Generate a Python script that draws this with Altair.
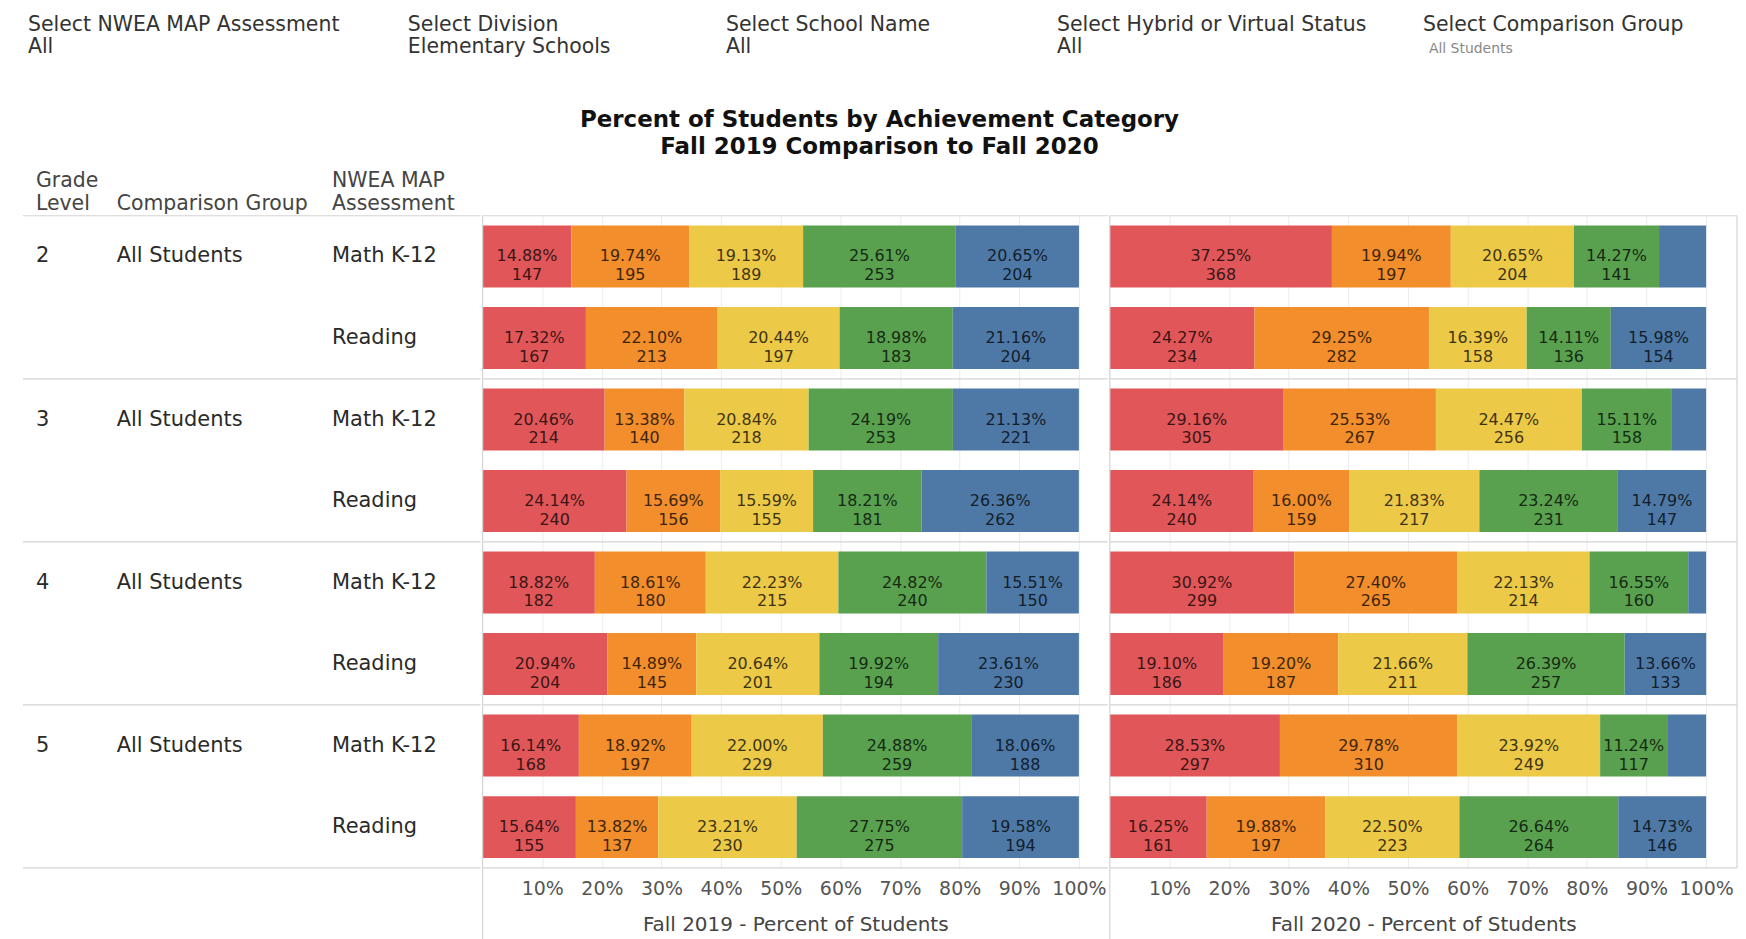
import altair as alt
import pandas as pd

FONT = "DejaVu Sans"
LINE = "#d4d4d4"

# ---------------- data ----------------
grades = ["2", "3", "4", "5"]
assessments = ["Math K-12", "Reading"]
group_label = "All Students"
categories = ["Low", "LoAvg", "Avg", "HiAvg", "High"]
cat_colors = ["#E15759", "#F28E2B", "#EDC948", "#59A14F", "#4E79A7"]

pct_2019 = [
    [14.88, 19.74, 19.13, 25.61, 20.65],
    [17.32, 22.10, 20.44, 18.98, 21.16],
    [20.46, 13.38, 20.84, 24.19, 21.13],
    [24.14, 15.69, 15.59, 18.21, 26.36],
    [18.82, 18.61, 22.23, 24.82, 15.51],
    [20.94, 14.89, 20.64, 19.92, 23.61],
    [16.14, 18.92, 22.00, 24.88, 18.06],
    [15.64, 13.82, 23.21, 27.75, 19.58],
]
n_2019 = [
    [147, 195, 189, 253, 204],
    [167, 213, 197, 183, 204],
    [214, 140, 218, 253, 221],
    [240, 156, 155, 181, 262],
    [182, 180, 215, 240, 150],
    [204, 145, 201, 194, 230],
    [168, 197, 229, 259, 188],
    [155, 137, 230, 275, 194],
]
pct_2020 = [
    [37.25, 19.94, 20.65, 14.27, 7.89],
    [24.27, 29.25, 16.39, 14.11, 15.98],
    [29.16, 25.53, 24.47, 15.11, 5.73],
    [24.14, 16.00, 21.83, 23.24, 14.79],
    [30.92, 27.40, 22.13, 16.55, 3.00],
    [19.10, 19.20, 21.66, 26.39, 13.66],
    [28.53, 29.78, 23.92, 11.24, 6.53],
    [16.25, 19.88, 22.50, 26.64, 14.73],
]
n_2020 = [
    [368, 197, 204, 141, None],
    [234, 282, 158, 136, 154],
    [305, 267, 256, 158, None],
    [240, 159, 217, 231, 147],
    [299, 265, 214, 160, None],
    [186, 187, 211, 257, 133],
    [297, 310, 249, 117, None],
    [161, 197, 223, 264, 146],
]

filter_titles = ["Select NWEA MAP Assessment", "Select Division", "Select School Name",
                 "Select Hybrid or Virtual Status", "Select Comparison Group"]
filter_values = ["All", "Elementary Schools", "All", "All", "All Students"]
title_lines = ["Percent of Students by Achievement Category", "Fall 2019 Comparison to Fall 2020"]
header_line1 = ["Grade", "", "NWEA MAP"]
header_line2 = ["Level", "Comparison Group", "Assessment"]
tick_values = [10, 20, 30, 40, 50, 60, 70, 80, 90, 100]
axis_titles = ["Fall 2019 - Percent of Students", "Fall 2020 - Percent of Students"]

# ---------------- layout ----------------
W_TABLE, W19, W20 = 474, 627, 629
H = 654
HEADER_H = 205
PX_PER_100 = 598
filter_x = [20, 401, 720, 1052, 1419]
header_x = [28, 109, 325]

row_keys = [f"{g}|{a}" for g in grades for a in assessments]

recs = []
for period, P, N in (("2019", pct_2019, n_2019), ("2020", pct_2020, n_2020)):
    for i, rk in enumerate(row_keys):
        for j, c in enumerate(categories):
            n = N[i][j]
            lab = f"{P[i][j]:.2f}%\n{n}" if n is not None else ""
            recs.append({"period": period, "row": rk, "cat": c, "ci": j,
                         "pct": P[i][j], "label": lab})
bars_df = pd.DataFrame(recs)

table_df = pd.DataFrame({
    "row": row_keys,
    "grade": [g if a == assessments[0] else "" for g in grades for a in assessments],
    "group": [group_label if a == assessments[0] else "" for g in grades for a in assessments],
    "assess": [a for g in grades for a in assessments],
})
starts_df = pd.DataFrame({"row": [f"{g}|{assessments[0]}" for g in grades]})
end_df = pd.DataFrame({"row": [row_keys[-1]]})
one = pd.DataFrame({"k": [0]})


def yenc(band_pos=None):
    kw = {}
    if band_pos is not None:
        kw["bandPosition"] = band_pos
    return alt.Y("row:N", sort=row_keys, axis=None,
                 scale=alt.Scale(domain=row_keys, paddingInner=0, paddingOuter=0), **kw)


def hrules(x0, x1):
    top = alt.Chart(starts_df).mark_rule(color=LINE, strokeWidth=1.2).encode(
        y=yenc(0), x=alt.value(x0), x2=alt.value(x1))
    bot = alt.Chart(end_df).mark_rule(color=LINE, strokeWidth=1.2).encode(
        y=yenc(1), x=alt.value(x0), x2=alt.value(x1))
    return [top, bot]


def label(text, x, y, size, color="#333", weight="normal", align="left"):
    return alt.Chart(one).mark_text(align=align, baseline="middle", font=FONT,
                                    fontSize=size, fontWeight=weight, color=color).encode(
        x=alt.value(x), y=alt.value(y), text=alt.value(text))


# ---------------- header ----------------
hl = []
for k in range(len(filter_titles)):
    hl.append(label(filter_titles[k], filter_x[k], 16, 20.5))
    if k == len(filter_titles) - 1:
        hl.append(label(filter_values[k], filter_x[k] + 6, 40, 14, color="#888"))
    else:
        hl.append(label(filter_values[k], filter_x[k], 38, 20.5))
hl.append(label(title_lines[0], 874, 111, 23, color="#111", weight="bold", align="center"))
hl.append(label(title_lines[1], 874, 138, 23, color="#111", weight="bold", align="center"))
for k in range(3):
    if header_line1[k]:
        hl.append(label(header_line1[k], header_x[k], 172, 20.5, color="#444"))
    hl.append(label(header_line2[k], header_x[k], 195, 20.5, color="#444"))
header = alt.layer(*hl).properties(width=W_TABLE + W19 + W20, height=HEADER_H)

# ---------------- table panel ----------------
tl = hrules(15, W_TABLE)
for field, x in zip(["grade", "group", "assess"], header_x):
    tl.append(alt.Chart(table_df).mark_text(align="left", baseline="middle", font=FONT,
                                            fontSize=21, color="#2a2a2a").encode(
        y=yenc(), x=alt.value(x), text=f"{field}:N"))
table = alt.layer(*tl).properties(width=W_TABLE, height=H)


# ---------------- bar panels ----------------
def bar_panel(period, width, title, right_border):
    dmax = width / PX_PER_100 * 100
    xscale = alt.Scale(domain=[0, dmax], nice=False, zero=True)
    base = alt.Chart(bars_df[bars_df.period == period]).transform_stack(
        stack="pct", groupby=["row"], sort=[alt.SortField("ci", order="ascending")],
        as_=["x0", "x1"]).transform_calculate(mid="(datum.x0 + datum.x1) / 2")
    bars = base.mark_bar(height={"band": 0.76}).encode(
        x=alt.X("x0:Q", scale=xscale, axis=alt.Axis(
            values=tick_values, labelExpr="datum.value + '%'", grid=True, gridColor="#ececec",
            ticks=False, tickSize=0, domain=False, labelFont=FONT, labelFontSize=19,
            labelColor="#555", labelPadding=12, labelFlush=False, labelOverlap=False,
            title=title, titleFont=FONT, titleFontSize=20, titleColor="#444",
            titleFontWeight="normal", titlePadding=16)),
        x2="x1:Q",
        y=yenc(),
        color=alt.Color("cat:N", scale=alt.Scale(domain=categories, range=cat_colors), legend=None),
    )
    texts = base.mark_text(lineBreak="\n", font=FONT, fontSize=16, lineHeight=19, color="#000",
                           opacity=0.75, baseline="middle", align="center").encode(
        x=alt.X("mid:Q", scale=xscale), y=yenc(), text="label:N")
    layers = [bars, texts] + hrules(0, width)
    layers.append(alt.Chart(one).mark_rule(color=LINE, strokeWidth=1.2).encode(
        x=alt.value(0), y=alt.value(0), y2=alt.value(H + 72)))
    if right_border:
        layers.append(alt.Chart(one).mark_rule(color=LINE, strokeWidth=1.2).encode(
            x=alt.value(width), y=alt.value(0), y2=alt.value(H)))
    return alt.layer(*layers).properties(width=width, height=H)


p19 = bar_panel("2019", W19, axis_titles[0], False)
p20 = bar_panel("2020", W20, axis_titles[1], True)

chart = alt.vconcat(
    header,
    alt.hconcat(table, p19, p20, spacing=0),
    spacing=0,
).properties(padding=0, background="white").configure(
    font=FONT, view=alt.ViewConfig(strokeOpacity=0))

chart.save("out.html", embed_options={"renderer": "svg", "actions": False})
